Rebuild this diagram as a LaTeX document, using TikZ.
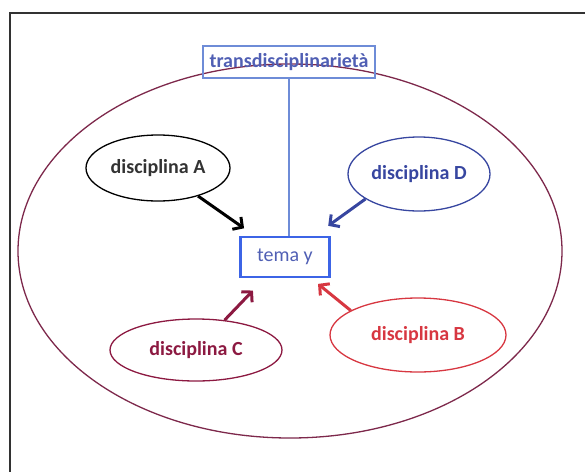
\documentclass[tikz,border=0pt]{standalone}
\usepackage{fontspec}
\setmainfont{Carlito}
\usetikzlibrary{shapes.geometric,arrows.meta}

\definecolor{framegray}{RGB}{50,50,50}
\definecolor{wine}{RGB}{125,40,75}
\definecolor{boxblue}{RGB}{60,100,230}
\definecolor{paleblue}{RGB}{110,140,215}
\definecolor{textblue}{RGB}{80,95,180}
\definecolor{navy}{RGB}{55,70,160}
\definecolor{discred}{RGB}{215,55,65}
\definecolor{discwine}{RGB}{140,25,65}

\begin{document}
\begin{tikzpicture}[x=1pt,y=-1pt,>={Straight Barb[length=7pt,width=15pt]},
    disc/.style={ellipse,draw,line width=1.3pt,inner sep=0pt,font=\bfseries\fontsize{20}{22}\selectfont},
    link/.style={->,line width=3pt}]
  \useasboundingbox (0,0) rectangle (585,471);
  \draw[framegray,line width=2pt] (590,13) -- (10,13) -- (10,480);

  \node (outer) [ellipse,draw=wine,line width=1.3pt,minimum width=544pt,minimum height=374pt] at (290,251) {};

  \node (trans) [draw=paleblue,line width=1.5pt,text=textblue,minimum width=172pt,minimum height=32pt,inner sep=0pt,font=\bfseries\fontsize{20}{22}\selectfont] at (289,62) {transdisciplinarietà};
  \node (tema)  [draw=boxblue,line width=2.5pt,text=textblue,minimum width=89pt,minimum height=40pt,inner sep=0pt,font=\fontsize{20}{22}\selectfont] at (285,257) {tema y};

  \node (A) [disc,draw=black,text=black!80,minimum width=144pt,minimum height=66pt] at (158,168) {disciplina A};
  \node (D) [disc,draw=navy,text=navy,minimum width=142pt,minimum height=74pt] at (419,174) {disciplina D};
  \node (C) [disc,draw=discwine,text=discwine,minimum width=172pt,minimum height=62pt] at (196,350) {disciplina C};
  \node (B) [disc,draw=discred,text=discred,minimum width=176pt,minimum height=74pt] at (418,335) {disciplina B};

  \draw[paleblue,line width=1.3pt] (trans) -- (trans |- tema.north);

  \path[link] (A) edge[black,shorten >=13pt] (tema);
  \path[link] (D.205) edge[navy,shorten >=17pt] (tema);
  \path[link] (C) edge[discwine,shorten >=17pt] (tema);
  \path[link] (B.160) edge[discred,shorten >=9pt] (tema);
\end{tikzpicture}
\end{document}
